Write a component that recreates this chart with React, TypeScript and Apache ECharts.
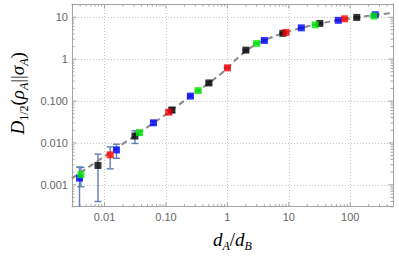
import React, { useEffect, useRef } from 'react';
import * as echarts from 'echarts';

// ---- data ----
const blackX = [1 / 128, 1 / 32, 1 / 8, 1 / 2, 2, 8, 32, 128];
const blackY = [0.0029, 0.0146, 0.061, 0.27, 1.64, 4.13, 7.12, 9.89];
const blackErr = [0.0025, 0.0049, 0.008, 0.02, 0.08, 0.15, 0.25, 0.3];

const blueX = [1 / 256, 1 / 64, 1 / 16, 1 / 4, 4, 16, 64, 256];
const blueY = [0.00145, 0.0068, 0.0302, 0.131, 2.79, 5.58, 8.44, 11.5];
const blueErr = [0.0012, 0.0025, 0.003, 0.008, 0.12, 0.2, 0.3, 0.4];

const redX = [1 / 81, 1 / 9, 1, 9, 81];
const redY = [0.0052, 0.0543, 0.62, 4.34, 9.16];
const redErr = [0.0028, 0.005, 0.03, 0.15, 0.3];

const greenX = [1 / 243, 1 / 27, 1 / 3, 3, 27, 243];
const greenY = [0.00175, 0.0176, 0.177, 2.37, 6.59, 10.7];
const greenErr = [0.00085, 0.002, 0.01, 0.1, 0.25, 0.35];

const curveX = [0.00294, 0.01, 0.03, 0.1, 0.2, 0.3, 0.5, 0.7, 1, 1.4, 2, 3, 4, 6, 10, 20, 40, 100, 200, 498];
const curveY = [0.00142, 0.0048, 0.0143, 0.048, 0.102, 0.158, 0.267, 0.39, 0.61, 1.0, 1.58, 2.3, 2.8, 3.57, 4.59, 6.04, 7.54, 9.37, 10.8, 12.7];

const xTickValues = [0.01, 0.1, 1, 10, 100];
const xTickLabels = ['0.01', '0.10', '1', '10', '100'];
const yTickValues = [0.001, 0.01, 0.1, 1, 10];
const yTickLabels = ['0.001', '0.010', '0.100', '1', '10'];

const X_MIN = 0.00294;
const X_MAX = 498;
const Y_MIN = 0.0003;
const Y_MAX = 20.7;

const FRAME = '#a3a3a3';
const EB = '#5e81b5';

function fmt(values: number[], labels: string[]) {
  return (v: number) => {
    for (let i = 0; i < values.length; i++) {
      if (Math.abs(Math.log10(v) - Math.log10(values[i])) < 1e-6) return labels[i];
    }
    return '';
  };
}

function minorValues(lo: number, hi: number) {
  const out: number[] = [];
  for (let e = -5; e <= 4; e++) {
    for (let m = 2; m <= 9; m++) {
      const v = m * Math.pow(10, e);
      if (v > lo && v < hi) out.push(v);
    }
  }
  return out;
}

export default function App() {
  const ref = useRef<HTMLDivElement>(null);

  useEffect(() => {
    document.body.style.margin = '0';
    if (!ref.current) return;
    const chart = echarts.init(ref.current, null, { renderer: 'svg' });

    const errSeries = (xs: number[], ys: number[], es: number[]) => ({
      type: 'custom',
      z: 1,
      silent: true,
      encode: { x: 0, y: 1 },
      data: xs.map((x, i) => [x, ys[i], es[i]]),
      renderItem: (_p: any, api: any) => {
        const x = api.value(0);
        const y = api.value(1);
        const e = api.value(2);
        const hi = Math.min(y + e, Y_MAX);
        const lo = y - e;
        const clipped = lo < Y_MIN;
        const pHi = api.coord([x, hi]);
        const pLo = api.coord([x, clipped ? Y_MIN : lo]);
        const st = { stroke: EB, lineWidth: 1.4 };
        const children: any[] = [
          { type: 'line', shape: { x1: pHi[0], y1: pHi[1], x2: pLo[0], y2: pLo[1] }, style: st },
          { type: 'line', shape: { x1: pHi[0] - 3.5, y1: pHi[1], x2: pHi[0] + 3.5, y2: pHi[1] }, style: st },
        ];
        if (!clipped) {
          children.push({ type: 'line', shape: { x1: pLo[0] - 3.5, y1: pLo[1], x2: pLo[0] + 3.5, y2: pLo[1] }, style: st });
        }
        return { type: 'group', children };
      },
    });

    const scatter = (xs: number[], ys: number[], color: string) => ({
      type: 'scatter',
      z: 3,
      symbol: 'rect',
      symbolSize: 7,
      itemStyle: { color },
      data: xs.map((x, i) => [x, ys[i]]),
    });

    const xTicks = [
      ...xTickValues.map((v) => [v, 1, 4.5]),
      ...minorValues(X_MIN, X_MAX).map((v) => [v, 1, 2.5]),
    ];
    const yTicks = [
      ...yTickValues.map((v) => [1, v, 4.5]),
      ...minorValues(Y_MIN, Y_MAX).map((v) => [1, v, 2.5]),
    ];
    const tickStyle = { stroke: FRAME, lineWidth: 1 };

    const serif = 'Liberation Serif';
    const rich = {
      i: { fontFamily: serif, fontStyle: 'italic', fontSize: 19, lineHeight: 24, color: '#000' },
      r: { fontFamily: serif, fontSize: 19, lineHeight: 24, color: '#000' },
      s: { fontFamily: serif, fontSize: 12, verticalAlign: 'bottom', color: '#000' },
      si: { fontFamily: serif, fontStyle: 'italic', fontSize: 12, verticalAlign: 'bottom', color: '#000' },
    };

    const labelStyle = { color: '#666', fontSize: 11, fontFamily: 'Liberation Sans' };
    const split = { show: true, showMinLine: false, showMaxLine: false, lineStyle: { color: '#c4c4c4', type: [1, 2], width: 1 } };

    chart.setOption({
      animation: false,
      grid: { left: 65, top: 4, width: 328, height: 202.7, containLabel: false },
      xAxis: [
        {
          type: 'log', logBase: 10, min: X_MIN, max: X_MAX,
          axisLine: { show: true, lineStyle: { color: FRAME } },
          axisTick: { show: false },
          axisLabel: { ...labelStyle, margin: 5, formatter: fmt(xTickValues, xTickLabels), showMinLabel: false, showMaxLabel: false },
          splitLine: split,
          name: '{i|d}{si|A}{r|/}{i|d}{si|B}',
          nameLocation: 'middle',
          nameGap: 21,
          nameTextStyle: { rich, verticalAlign: 'top' },
        },
        {
          type: 'log', logBase: 10, min: X_MIN, max: X_MAX, position: 'top',
          axisLine: { show: true, lineStyle: { color: FRAME } },
          axisTick: { show: false }, axisLabel: { show: false }, splitLine: { show: false },
        },
      ],
      yAxis: [
        {
          type: 'log', logBase: 10, min: Y_MIN, max: Y_MAX,
          axisLine: { show: true, lineStyle: { color: FRAME } },
          axisTick: { show: false },
          axisLabel: { ...labelStyle, margin: 4, formatter: fmt(yTickValues, yTickLabels), showMinLabel: false, showMaxLabel: false },
          splitLine: split,
          name: '{i|D}{s|1/2}{r|(}{i|ρ}{si|A}{r|||}{i|σ}{si|A}{r|)}',
          nameLocation: 'middle',
          nameRotate: 90,
          nameGap: 42,
          nameTextStyle: { rich, padding: [0, 0, 0, 24] },
        },
        {
          type: 'log', logBase: 10, min: Y_MIN, max: Y_MAX, position: 'right',
          axisLine: { show: true, lineStyle: { color: FRAME } },
          axisTick: { show: false }, axisLabel: { show: false }, splitLine: { show: false },
        },
      ],
      series: [
        {
          type: 'custom', z: 0, silent: true, encode: { x: 0, y: 1 },
          data: xTicks,
          renderItem: (_p: any, api: any) => {
            const v = api.value(0);
            const len = api.value(2);
            const b = api.coord([v, Y_MIN]);
            const t = api.coord([v, Y_MAX]);
            return {
              type: 'group',
              children: [
                { type: 'line', shape: { x1: b[0], y1: b[1], x2: b[0], y2: b[1] - len }, style: tickStyle },
                { type: 'line', shape: { x1: t[0], y1: t[1], x2: t[0], y2: t[1] + len }, style: tickStyle },
              ],
            };
          },
        },
        {
          type: 'custom', z: 0, silent: true, encode: { x: 0, y: 1 },
          data: yTicks,
          renderItem: (_p: any, api: any) => {
            const v = api.value(1);
            const len = api.value(2);
            const l = api.coord([X_MIN, v]);
            const r = api.coord([X_MAX, v]);
            return {
              type: 'group',
              children: [
                { type: 'line', shape: { x1: l[0], y1: l[1], x2: l[0] + len, y2: l[1] }, style: tickStyle },
                { type: 'line', shape: { x1: r[0], y1: r[1], x2: r[0] - len, y2: r[1] }, style: tickStyle },
              ],
            };
          },
        },
        errSeries(blackX, blackY, blackErr),
        errSeries(blueX, blueY, blueErr),
        errSeries(redX, redY, redErr),
        errSeries(greenX, greenY, greenErr),
        {
          type: 'line', z: 2, silent: true, showSymbol: false, smooth: 0.3,
          data: curveX.map((x, i) => [x, curveY[i]]),
          lineStyle: { color: '#8a8a8a', width: 2, type: [6, 4] },
        },
        scatter(blackX, blackY, '#000000'),
        scatter(blueX, blueY, '#0000ff'),
        scatter(redX, redY, '#ff0000'),
        scatter(greenX, greenY, '#00ee00'),
      ],
    });

    return () => chart.dispose();
  }, []);

  return <div ref={ref} style={{ width: 399, height: 260 }} />;
}
